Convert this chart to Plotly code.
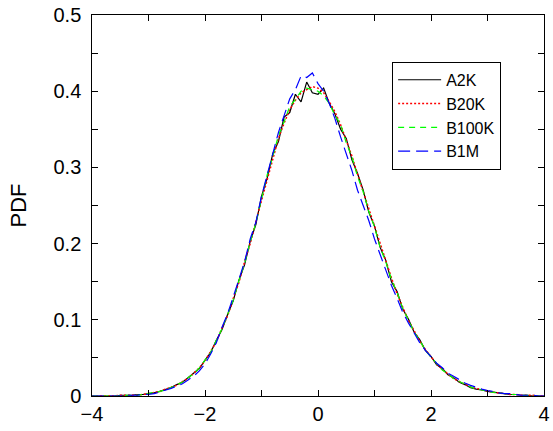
import plotly.graph_objects as go

x_vals = [-4.0, -3.9, -3.8, -3.7, -3.6, -3.5, -3.4, -3.3, -3.2, -3.1,
          -3.0, -2.9, -2.8, -2.7, -2.6, -2.5, -2.4, -2.3, -2.2, -2.1,
          -2.0, -1.9, -1.8, -1.7, -1.6, -1.5, -1.4, -1.3, -1.2, -1.1,
          -1.0, -0.9, -0.8, -0.7, -0.6, -0.5, -0.4, -0.3, -0.2, -0.1,
          0.0, 0.1, 0.2, 0.3, 0.4, 0.5, 0.6, 0.7, 0.8, 0.9,
          1.0, 1.1, 1.2, 1.3, 1.4, 1.5, 1.6, 1.7, 1.8, 1.9,
          2.0, 2.1, 2.2, 2.3, 2.4, 2.5, 2.6, 2.7, 2.8, 2.9,
          3.0, 3.1, 3.2, 3.3, 3.4, 3.5, 3.6, 3.7, 3.8, 3.9, 4.0]

a2k = [0, 0, 0, 0, 0, 0.001, 0.001, 0.001, 0.002, 0.002,
       0.003, 0.004, 0.006, 0.008, 0.011, 0.015, 0.018, 0.024, 0.030, 0.036,
       0.047, 0.057, 0.073, 0.087, 0.107, 0.125, 0.152, 0.172, 0.203, 0.225,
       0.262, 0.286, 0.318, 0.334, 0.366, 0.372, 0.396, 0.386, 0.412, 0.398,
       0.396, 0.404, 0.384, 0.370, 0.350, 0.338, 0.310, 0.292, 0.270, 0.241,
       0.223, 0.195, 0.178, 0.150, 0.137, 0.114, 0.101, 0.084, 0.074, 0.060,
       0.052, 0.041, 0.036, 0.028, 0.024, 0.018, 0.015, 0.011, 0.009, 0.008,
       0.006, 0.005, 0.004, 0.003, 0.002, 0.002, 0.001, 0.001, 0.000, 0.000, 0.000]

b20k = [0, 0, 0, 0, 0, 0.001, 0.001, 0.001, 0.001, 0.002,
        0.003, 0.004, 0.006, 0.009, 0.011, 0.014, 0.019, 0.023, 0.030, 0.037,
        0.046, 0.059, 0.071, 0.089, 0.105, 0.128, 0.149, 0.176, 0.200, 0.229,
        0.256, 0.286, 0.312, 0.338, 0.358, 0.376, 0.388, 0.398, 0.402, 0.406,
        0.404, 0.398, 0.386, 0.373, 0.356, 0.336, 0.315, 0.291, 0.268, 0.244,
        0.221, 0.198, 0.176, 0.155, 0.134, 0.117, 0.099, 0.086, 0.072, 0.061,
        0.051, 0.042, 0.035, 0.029, 0.023, 0.019, 0.015, 0.012, 0.010, 0.008,
        0.006, 0.005, 0.004, 0.003, 0.002, 0.002, 0.001, 0.001, 0.001, 0.000, 0.000]

b100k = [0, 0, 0, 0, 0, 0, 0.001, 0.001, 0.001, 0.002,
         0.003, 0.004, 0.006, 0.008, 0.011, 0.014, 0.018, 0.024, 0.029, 0.037,
         0.047, 0.057, 0.073, 0.088, 0.107, 0.126, 0.151, 0.174, 0.202, 0.227,
         0.258, 0.290, 0.314, 0.342, 0.360, 0.380, 0.389, 0.400, 0.404, 0.402,
         0.400, 0.394, 0.384, 0.368, 0.357, 0.332, 0.314, 0.288, 0.268, 0.242,
         0.222, 0.195, 0.176, 0.153, 0.136, 0.115, 0.100, 0.084, 0.073, 0.060,
         0.051, 0.043, 0.034, 0.029, 0.023, 0.019, 0.015, 0.012, 0.009, 0.008,
         0.006, 0.005, 0.004, 0.003, 0.002, 0.002, 0.001, 0.001, 0.000, 0.000, 0.000]

b1m = [0, 0, 0, 0, 0, 0, 0.001, 0.001, 0.001, 0.002,
       0.002, 0.003, 0.005, 0.007, 0.010, 0.013, 0.016, 0.021, 0.026, 0.033,
       0.042, 0.055, 0.070, 0.090, 0.108, 0.130, 0.154, 0.176, 0.206, 0.228,
       0.262, 0.290, 0.320, 0.346, 0.368, 0.390, 0.402, 0.420, 0.418, 0.424,
       0.410, 0.400, 0.384, 0.364, 0.340, 0.318, 0.296, 0.270, 0.250, 0.230,
       0.206, 0.186, 0.165, 0.145, 0.128, 0.110, 0.096, 0.082, 0.070, 0.060,
       0.051, 0.043, 0.037, 0.030, 0.026, 0.021, 0.017, 0.014, 0.011, 0.009,
       0.007, 0.006, 0.004, 0.003, 0.003, 0.002, 0.001, 0.001, 0.001, 0.000, 0.000]

series_names = ["A2K", "B20K", "B100K", "B1M"]
series_data = [a2k, b20k, b100k, b1m]
series_colors = ["#000000", "#ff0000", "#00ff00", "#0000ff"]
series_dash = ["solid", "2px,2px", "6px,5px", "12px,6px"]
series_width = [1.2, 1.5, 1.2, 1.2]

for s in series_data:
    assert len(s) == len(x_vals)

fig = go.Figure()
for name, ys, col, dash, w in zip(series_names, series_data, series_colors, series_dash, series_width):
    fig.add_trace(go.Scatter(x=x_vals, y=ys, mode="lines", name=name,
                             line=dict(color=col, width=w, dash=dash)))

FONT = "Liberation Sans, Arial, sans-serif"
TICK_LEN = 6

fig.update_layout(
    width=553, height=431,
    margin=dict(l=92, r=3, t=15, b=35),
    paper_bgcolor="white", plot_bgcolor="white",
    font=dict(family=FONT, size=20, color="black"),
    xaxis=dict(range=[-4, 4], tickmode="linear", tick0=-4, dtick=2,
               showline=True, linecolor="black", linewidth=1.3, mirror="allticks",
               ticks="inside", ticklen=TICK_LEN, tickcolor="black", tickwidth=1.3,
               showgrid=False, zeroline=False, ticklabeloverflow="allow",
               tickfont=dict(family=FONT, size=20, color="black"),
               minor=dict(ticks="inside", ticklen=TICK_LEN, tickcolor="black", tickwidth=1.3,
                          dtick=1, showgrid=False)),
    yaxis=dict(range=[0, 0.5], tickmode="linear", tick0=0, dtick=0.1,
               showline=True, linecolor="black", linewidth=1.3, mirror="allticks",
               ticks="inside", ticklen=TICK_LEN, tickcolor="black", tickwidth=1.3,
               showgrid=False, zeroline=False, ticksuffix="\u00a0",
               tickfont=dict(family=FONT, size=20, color="black"),
               minor=dict(ticks="inside", ticklen=TICK_LEN, tickcolor="black", tickwidth=1.3,
                          dtick=0.05, showgrid=False),
               title=dict(text="PDF", font=dict(family=FONT, size=22), standoff=20)),
    legend=dict(x=0.664, y=0.877, xanchor="left", yanchor="top",
                bordercolor="black", borderwidth=1, bgcolor="white",
                font=dict(family=FONT, size=16),
                itemwidth=43, tracegroupgap=0),
    showlegend=True,
)

fig.write_html("out.html")
